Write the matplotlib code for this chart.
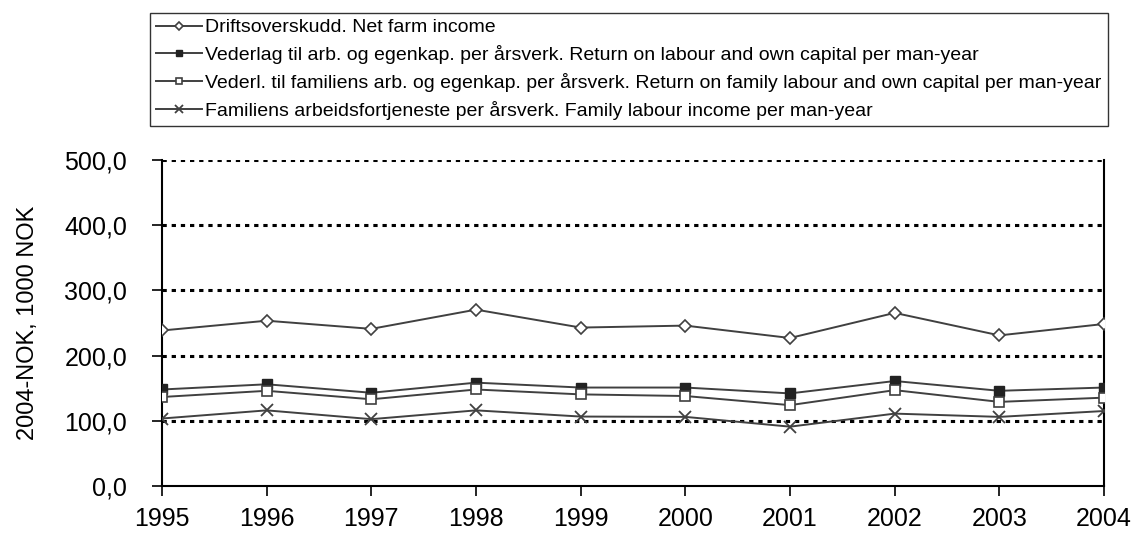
import numpy as np
import matplotlib
matplotlib.use('Agg')
import matplotlib.pyplot as plt

plt.rcParams['font.family'] = ['Liberation Sans', 'DejaVu Sans']

# data (2004-NOK, 1000 NOK)
years = [1995, 1996, 1997, 1998, 1999, 2000, 2001, 2002, 2003, 2004]
net_farm_income = [238.5, 253.5, 241.0, 270.5, 243.0, 246.0, 227.0, 265.5, 231.0, 248.5]
return_labour_capital = [148.0, 156.0, 143.0, 158.5, 151.0, 151.0, 142.0, 161.0, 146.0, 151.0]
return_family_labour = [136.5, 146.0, 133.0, 148.0, 140.5, 138.0, 124.0, 147.0, 129.0, 135.5]
family_labour_income = [103.5, 116.0, 102.5, 116.0, 106.5, 106.0, 91.0, 111.0, 106.0, 115.0]

labels = [
    'Driftsoverskudd. Net farm income',
    'Vederlag til arb. og egenkap. per årsverk. Return on labour and own capital per man-year',
    'Vederl. til familiens arb. og egenkap. per årsverk. Return on family labour and own capital per man-year',
    'Familiens arbeidsfortjeneste per årsverk. Family labour income per man-year',
]
y_ticks = [0, 100, 200, 300, 400, 500]
y_ticklabels = ['0,0', '100,0', '200,0', '300,0', '400,0', '500,0']
y_label = '2004-NOK, 1000 NOK'

line_col = '#404040'

fig = plt.figure(figsize=(11.32, 5.33), dpi=100)
ax = fig.add_axes([0.1431, 0.0882, 0.8322, 0.6116])

# dotted gridlines
for yv in y_ticks[1:]:
    ax.axhline(yv, color='black', lw=2.2, linestyle=(0, (1.4, 1.6)), zorder=1)

ax.plot(years, net_farm_income, color=line_col, lw=1.4, marker='D', ms=6.5,
        mfc='white', mec=line_col, mew=1.2, label=labels[0], zorder=3)
ax.plot(years, return_labour_capital, color=line_col, lw=1.4, marker='s', ms=7,
        mfc='#222222', mec='#222222', label=labels[1], zorder=3)
ax.plot(years, return_family_labour, color=line_col, lw=1.4, marker='s', ms=7,
        mfc='white', mec=line_col, mew=1.2, label=labels[2], zorder=3)
ax.plot(years, family_labour_income, color=line_col, lw=1.4, marker='x', ms=9,
        mec=line_col, mew=1.3, label=labels[3], zorder=3)

ax.set_xlim(years[0], years[-1])
ax.set_ylim(0, 500)
ax.set_xticks(years)
ax.set_xticklabels([str(y) for y in years], fontsize=18)
ax.set_yticks(y_ticks)
ax.set_yticklabels(y_ticklabels, fontsize=18)
ax.set_ylabel(y_label, fontsize=17, labelpad=18)
ax.tick_params(axis='both', direction='out', length=7, width=1.2, color='black')
ax.tick_params(axis='x', pad=8)
ax.tick_params(axis='y', pad=18)

ax.spines['top'].set_visible(False)
for s in ['left', 'right', 'bottom']:
    ax.spines[s].set_linewidth(1.5)
    ax.spines[s].set_color('black')

handles, lbls = ax.get_legend_handles_labels()
leg = fig.legend(handles, lbls, loc='upper left', bbox_to_anchor=(0.1325, 1 - 13 / 533),
                 fontsize=14, frameon=True, fancybox=False, edgecolor='black',
                 handlelength=2.4, handletextpad=0.15, labelspacing=0.45,
                 borderpad=0.3, borderaxespad=0, markerscale=0.7)
leg.get_frame().set_linewidth(1.0)

fig.savefig('out.png', dpi=100)
